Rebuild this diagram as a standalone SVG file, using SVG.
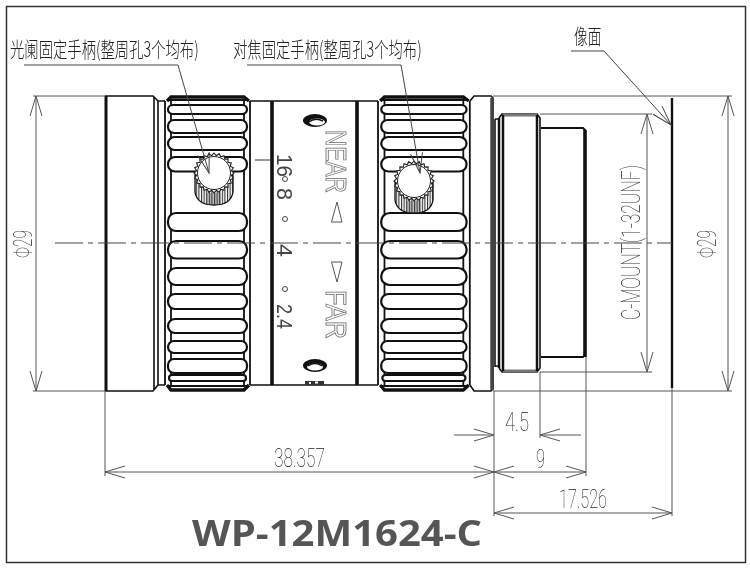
<svg xmlns="http://www.w3.org/2000/svg" xmlns:xlink="http://www.w3.org/1999/xlink" width="750" height="568" viewBox="0 0 750 568">
<style>
.o{fill:none;stroke:#111;stroke-width:1.6}
.w{fill:#fff;stroke:#111;stroke-width:2.200;vector-effect:non-scaling-stroke}
.r{fill:none;stroke:#111;stroke-width:1.800;vector-effect:non-scaling-stroke}
.t{fill:none;stroke:#111;stroke-width:3.6}
.d{fill:none;stroke:#555;stroke-width:1}
.a{marker-start:url(#h);marker-end:url(#h)}
.e{marker-end:url(#h)}
.l{marker-end:url(#s)}
.n{font-family:"Roboto","Liberation Sans",sans-serif;font-weight:100;fill:#222;font-size:25px}
.c{font-family:"Noto Sans CJK SC",sans-serif;font-weight:300;fill:#222;font-size:21px}
.m{font-family:"Liberation Sans",sans-serif;fill:#fff;stroke:#666;stroke-width:.8;font-size:30px}
.f{font-family:"Liberation Sans",sans-serif;fill:#444;font-size:22px}
</style>
<defs>
<filter id="gray" x="0" y="0" width="1" height="1" filterUnits="objectBoundingBox" color-interpolation-filters="sRGB"><feOffset dx="0" dy="0"/></filter>
<marker id="h" markerUnits="userSpaceOnUse" markerWidth="24" markerHeight="16" refX="21" refY="7" orient="auto-start-reverse" overflow="visible"><path d="M1,1 L21,7 L1,13" fill="none" stroke="#555"/></marker>
<marker id="s" markerUnits="userSpaceOnUse" markerWidth="24" markerHeight="16" refX="21" refY="7" orient="auto" overflow="visible"><path d="M1,1 L21,7 L1,13" fill="none" stroke="#444"/></marker>
<pattern id="hatch" patternUnits="userSpaceOnUse" width="2.6" height="6"><rect width="2.6" height="6" fill="#fff"/><rect width="1.1" height="6" fill="#333"/></pattern>
<g id="ring">
<path class="r" d="M0,101V385M85,101V385M6,100V385M79,100V385"/>
<path class="r" style="stroke-width:3.4" d="M2,101L6,97H79L84,101M2,385L6,390H79L84,385"/>
<path class="r" d="M2,100H84M2,386H84"/>
<g id="ribs">
<rect class="w" x="3" y="105" width="79" height="9" rx="5"/>
<rect class="w" x="3" y="120" width="79" height="13" rx="6"/>
<rect class="w" x="3" y="137" width="79" height="13" rx="6.5"/>
<rect class="w" x="3" y="157" width="79" height="14.500" rx="7"/>
<rect class="w" x="3" y="213" width="79" height="18" rx="8"/>
<rect class="w" x="3" y="241" width="79" height="17.500" rx="8"/>
<rect class="w" x="3" y="268" width="79" height="17" rx="8"/>
<rect class="w" x="3" y="294" width="79" height="15" rx="7"/>
<rect class="w" x="3" y="319" width="79" height="14" rx="7"/>
<rect class="w" x="3" y="341" width="79" height="12" rx="6"/>
<rect class="w" x="3" y="359" width="79" height="14" rx="6"/>
<rect class="w" x="4" y="375" width="77" height="6" rx="3"/>
</g>
</g>
<g id="knob">
<path d="M-19,2V19Q-17,32 0,32Q17,32 19,19V2Z" fill="url(#hatch)" stroke="#111" stroke-width="1.300"/>
<path d="M-7,20H7V32H-7Z" fill="#444" opacity=".35"/>
<polygon points="0,-20 2.28,-17.35 5.18,-19.32 6.7,-16.17 10,-17.32 10.65,-13.88 14.14,-14.14 13.88,-10.65 17.32,-10 16.17,-6.7 19.32,-5.18 17.35,-2.28 20,0 17.35,2.28 19.32,5.18 16.17,6.7 17.32,10 13.88,10.65 14.14,14.14 10.65,13.88 10,17.32 6.7,16.17 5.18,19.32 2.28,17.35 0,20 -2.28,17.35 -5.18,19.32 -6.7,16.17 -10,17.32 -10.65,13.88 -14.14,14.14 -13.88,10.65 -17.32,10 -16.17,6.7 -19.32,5.18 -17.35,2.28 -20,0 -17.35,-2.28 -19.32,-5.18 -16.17,-6.7 -17.32,-10 -13.88,-10.65 -14.14,-14.14 -10.65,-13.88 -10,-17.32 -6.7,-16.17 -5.18,-19.32 -2.28,-17.35" fill="#fff" stroke="#222" stroke-width="1.100"/>
<circle r="16.500" fill="#fff" stroke="#222"/>
</g>
</defs>
<rect width="750" height="568" fill="#fff"/>
<rect x="6.500" y="6.500" width="739" height="556" fill="none" stroke="#333" stroke-width="1.500"/>

<g id="lens">
<path class="t" style="stroke-width:3" d="M106,96V391"/>
<path class="o" d="M105,96H153L158,101H165M105,391H153L158,385H165M154,97V390M158,101V385"/>
<use xlink:href="#ring" href="#ring" transform="translate(165 0)"/>
<path class="o" d="M250,101H378M250,385H378"/>
<path class="t" d="M272,101V385M357,101V385"/>
<use xlink:href="#ring" href="#ring" transform="translate(378 0) scale(1.08 1)"/>
<path class="o" d="M470,101L474,96H491L493,98V389L491,391H474L470,385"/>
<path d="M492,98V390" stroke="#444" stroke-width="3.500" fill="none"/>
<path class="o" d="M495,119H499M495,366H499"/>
<path class="o" d="M495,119V367"/>
<path class="t" style="stroke-width:2.500" d="M499,118V368"/>
<path class="o" d="M499,118L502,114H537L540,118V368L537,372H502L499,368"/>
<path d="M503,115H537M503,371H537" stroke="#777" stroke-width="3" fill="none"/>
<path class="t" style="stroke-width:2.500" d="M503,115V371M537,115V371"/>
<path class="o" style="stroke-width:2" d="M541,128H583L585,130V355L583,357H541"/>
<path class="t" d="M585,130V357"/>
<path d="M672,98V388" stroke="#111" stroke-width="2.400" fill="none"/>
<path d="M255,160H270" fill="none" stroke="#333"/>
</g>

<g id="knobs">
<use xlink:href="#knob" href="#knob" transform="translate(214 173)"/>
<use xlink:href="#knob" href="#knob" transform="translate(414 181)"/>
</g>

<g id="marks" filter="url(#gray)">
<ellipse cx="315" cy="120.500" rx="12" ry="6.500" fill="#111"/>
<ellipse cx="317" cy="122" rx="8" ry="3.500" fill="#fff"/>
<path d="M309,122Q315,117 323,121" fill="none" stroke="#111" stroke-width="1.500"/>
<ellipse cx="315" cy="365.500" rx="12" ry="6.500" fill="#111"/>
<ellipse cx="315" cy="367" rx="8" ry="3.500" fill="#fff"/>
<path d="M308,366Q315,361 322,366" fill="none" stroke="#111" stroke-width="1.500"/>
<rect x="305" y="381" width="19" height="4" fill="#333"/>
<rect x="309" y="382" width="2" height="2" fill="#fff"/>
<rect x="315" y="381.500" width="3" height="2" fill="#fff"/>
<text class="m" transform="translate(326 130) rotate(90)" textLength="63" lengthAdjust="spacingAndGlyphs">NEAR</text>
<text class="m" transform="translate(326 290) rotate(90)" textLength="49" lengthAdjust="spacingAndGlyphs">FAR</text>
<polygon points="337,202 331.500,222 342,222" fill="#fff" stroke="#555"/>
<polygon points="337,282 331.500,262 342,262" fill="#fff" stroke="#555"/>
<text class="f" transform="translate(277 154) rotate(90)" textLength="23" lengthAdjust="spacingAndGlyphs">16</text>
<text class="f" transform="translate(277 188) rotate(90)" textLength="12" lengthAdjust="spacingAndGlyphs">8</text>
<text class="f" transform="translate(277 244) rotate(90)" textLength="13" lengthAdjust="spacingAndGlyphs">4</text>
<text class="f" transform="translate(277 304) rotate(90)" textLength="25" lengthAdjust="spacingAndGlyphs">2.4</text>
<circle cx="285" cy="179" r="2.500" fill="#fff" stroke="#444"/>
<circle cx="285" cy="219" r="2.500" fill="#fff" stroke="#444"/>
<circle cx="285" cy="289" r="2.500" fill="#fff" stroke="#444"/>
</g>

<g id="connectors">
<path d="M55,243H672" stroke="#444" stroke-width="1" stroke-dasharray="28 5 5 5" fill="none"/>
<path class="d" d="M33,96H105M33,391H105M493,96H732M493,391H732M540,114H652M540,372H652"/>
<path class="d" d="M105,391V476M494,391V516M540,372V438M586,357V476M672,388V516"/>
<path class="d a" d="M36,96V391"/>
<path class="d a" d="M728,96V391"/>
<path class="d a" d="M647,114V372"/>
<path class="d a" d="M105,472H494"/>
<path class="d a" d="M494,472H586"/>
<path class="d a" d="M494,513H672"/>
<path class="d e" d="M454,435H494"/>
<path class="d e" d="M581,435H540"/>
<path class="l" fill="none" stroke="#444" d="M24,65H178L209,173"/>
<path class="l" fill="none" stroke="#444" d="M247,65H401L420,173"/>
<path class="l" fill="none" stroke="#444" d="M571,51H604L671,125"/>
</g>

<g id="labels" filter="url(#gray)">
<text class="c" transform="translate(10 57) scale(.683 1)">光阑固定手柄(整周孔3个均布)</text>
<text class="c" transform="translate(233 57) scale(.683 1)">对焦固定手柄(整周孔3个均布)</text>
<text class="c" transform="translate(574 44) scale(.65 1)">像面</text>
<text class="n" transform="translate(32 258) rotate(-90)" textLength="28" lengthAdjust="spacingAndGlyphs">Φ29</text>
<text class="n" transform="translate(716 258) rotate(-90)" textLength="28" lengthAdjust="spacingAndGlyphs">Φ29</text>
<text class="n" transform="translate(640 320) rotate(-90)" textLength="155" lengthAdjust="spacingAndGlyphs">C-MOUNT(1-32UNF)</text>
<text class="n" x="274" y="467" textLength="51" lengthAdjust="spacingAndGlyphs">38.357</text>
<text class="n" x="505" y="431" textLength="24" lengthAdjust="spacingAndGlyphs">4.5</text>
<text class="n" x="536" y="468" textLength="9" lengthAdjust="spacingAndGlyphs">9</text>
<text class="n" x="559" y="508" textLength="48" lengthAdjust="spacingAndGlyphs">17.526</text>
<text x="192" y="546" font-family="Open Sans, sans-serif" font-weight="700" font-size="35" fill="#555" textLength="290" lengthAdjust="spacingAndGlyphs">WP-12M1624-C</text>
</g>
</svg>
